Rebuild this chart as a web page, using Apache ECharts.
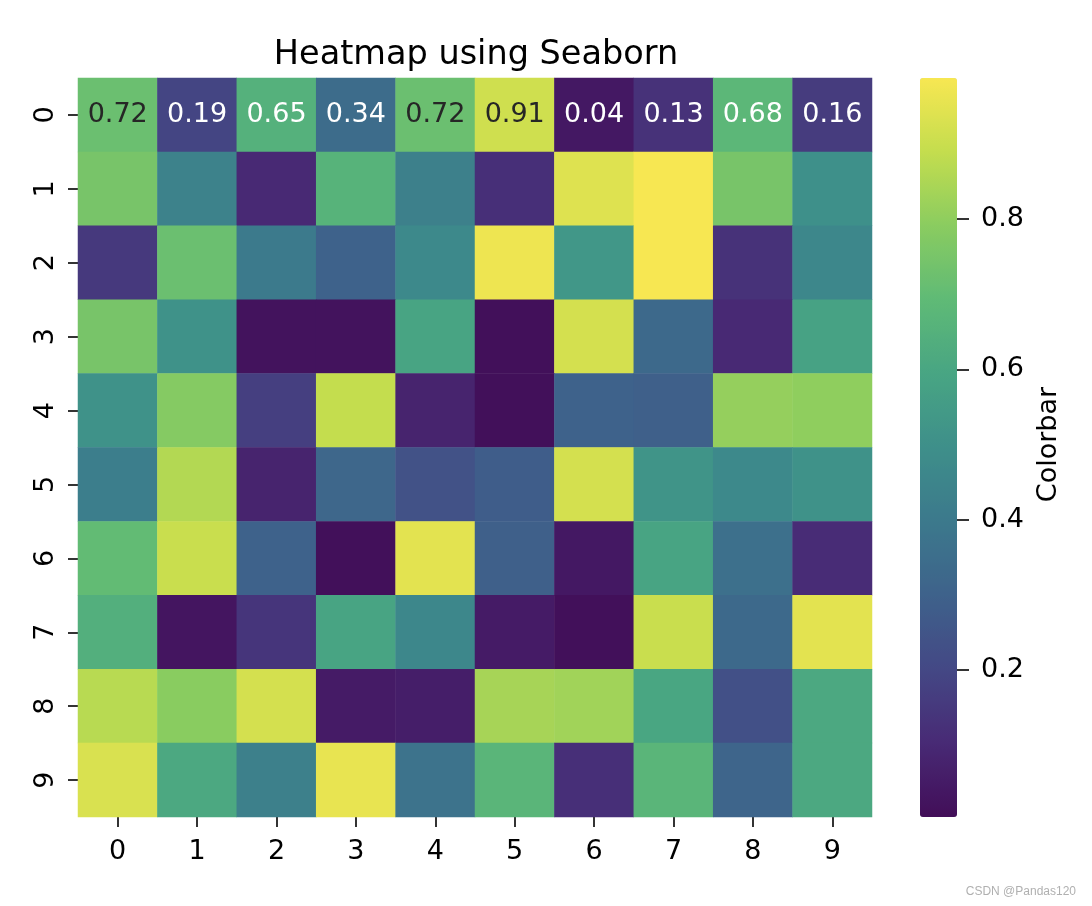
<!DOCTYPE html>
<html>
<head>
<meta charset="utf-8">
<script src="https://cdn.jsdelivr.net/npm/echarts@6/dist/echarts.min.js"></script>
<style>html,body{margin:0;padding:0;background:#fff}#chart{width:1092px;height:906px}</style>
</head>
<body>
<div id="chart"></div>
<script>
// ---- data ----
const xLabels = ['0','1','2','3','4','5','6','7','8','9'];
const yLabels = ['0','1','2','3','4','5','6','7','8','9'];
const row0 = [0.72,0.19,0.65,0.34,0.72,0.91,0.04,0.13,0.68,0.16];
const row1 = [0.75,0.44,0.10,0.66,0.43,0.12,0.94,0.99,0.75,0.50];
const row2 = [0.15,0.72,0.40,0.30,0.47,0.97,0.53,0.99,0.13,0.46];
const row3 = [0.75,0.51,0.02,0.02,0.59,0.01,0.92,0.33,0.10,0.58];
const row4 = [0.51,0.78,0.17,0.89,0.08,0.01,0.30,0.29,0.81,0.80];
const row5 = [0.42,0.86,0.08,0.32,0.24,0.28,0.92,0.52,0.47,0.51];
const row6 = [0.70,0.90,0.30,0.01,0.95,0.29,0.04,0.59,0.36,0.11];
const row7 = [0.64,0.03,0.14,0.59,0.46,0.05,0.01,0.90,0.33,0.95];
const row8 = [0.87,0.79,0.92,0.05,0.06,0.84,0.83,0.60,0.23,0.61];
const row9 = [0.93,0.61,0.43,0.96,0.37,0.67,0.12,0.67,0.31,0.61];
const values = [row0,row1,row2,row3,row4,row5,row6,row7,row8,row9];
const annotatedRows = [0];
const colorMin = 0.004, colorMax = 0.988;
// colorbar scale from 0 to 1 in steps of 0.2; only the inner ticks are shown
const colorbarScale = ['0.0','0.2','0.4','0.6','0.8','1.0'];
const colorbarShown = ['0.2','0.4','0.6','0.8'];
const titleText = 'Heatmap using Seaborn';
const colorbarLabel = 'Colorbar';

// ---- style ----
// viridis as it appears in the reference (slightly softened)
const palette = ['#420e58','#482a75','#444885','#3e628b','#3c798c','#3e8f8a','#48a583','#5fba76','#8acc60','#c4dd4e','#f7e752'];
// true viridis, used for the annotation text colour rule
const viridis = ['#440154','#482475','#414487','#355f8d','#2a788e','#21918c','#22a884','#44bf70','#7ad151','#bddf26','#fde725'];
const FONT = 'DejaVu Sans';
function hexToRgb(h){return [parseInt(h.substr(1,2),16),parseInt(h.substr(3,2),16),parseInt(h.substr(5,2),16)];}
function cmap(v){
  let t=(v-colorMin)/(colorMax-colorMin); t=Math.max(0,Math.min(1,t));
  const p=t*(viridis.length-1); const i=Math.min(Math.floor(p),viridis.length-2); const f=p-i;
  const a=hexToRgb(viridis[i]), b=hexToRgb(viridis[i+1]);
  return a.map((x,k)=>x+(b[k]-x)*f);
}
function lum(rgb){
  const c=rgb.map(x=>{x/=255;return x<=0.03928?x/12.92:Math.pow((x+0.055)/1.055,2.4);});
  return 0.2126*c[0]+0.7152*c[1]+0.0722*c[2];
}
const data=[];
values.forEach((row,r)=>row.forEach((v,c)=>{
  const item={value:[c,r,v]};
  if(annotatedRows.includes(r)){
    item.label={show:true,formatter:v.toFixed(2),color:lum(cmap(v))>0.408?'#262626':'#ffffff',
      fontFamily:FONT,fontSize:27};
  }
  data.push(item);
}));

// colorbar geometry
const cbTop=78, cbH=739;
const pxPerUnit=cbH/(colorMax-colorMin);
const scaleTop=cbTop-(1-colorMax)*pxPerUnit;
const scaleH=pxPerUnit;
const showIdx=(i)=>colorbarShown.includes(colorbarScale[i]);

const chart=echarts.init(document.getElementById('chart'),null,{renderer:'canvas'});
chart.setOption({
  animation:false,
  backgroundColor:'#ffffff',
  textStyle:{fontFamily:FONT},
  title:{text:titleText,left:471,top:33,textAlign:'center',
    textStyle:{fontFamily:FONT,fontSize:33.5,fontWeight:'normal',color:'#000'}},
  grid:[
    {left:78,top:78,width:794,height:739},
    {left:920,top:scaleTop,width:37,height:scaleH}
  ],
  xAxis:[
    {type:'category',gridIndex:0,data:xLabels,position:'bottom',
     axisLine:{show:false},splitLine:{show:false},
     axisTick:{show:true,alignWithLabel:true,length:10,lineStyle:{color:'#000',width:1.6}},
     axisLabel:{fontFamily:FONT,fontSize:27,color:'#000',margin:21}},
    {type:'value',gridIndex:1,show:false,min:0,max:1}
  ],
  yAxis:[
    {type:'category',gridIndex:0,data:yLabels,inverse:true,position:'left',
     axisLine:{show:false},splitLine:{show:false},
     axisTick:{show:true,alignWithLabel:true,length:10,lineStyle:{color:'#000',width:1.6}},
     axisLabel:{fontFamily:FONT,fontSize:27,color:'#000',rotate:90,margin:19}},
    {type:'category',gridIndex:1,position:'right',data:colorbarScale,boundaryGap:false,z:10,
     axisLine:{show:false,onZero:false},splitLine:{show:false},
     axisTick:{show:true,inside:false,length:12,interval:(i)=>showIdx(i),lineStyle:{color:'#000',width:1.6}},
     axisLabel:{show:true,interval:(i)=>showIdx(i),fontFamily:FONT,fontSize:27,color:'#000',margin:24},
     name:colorbarLabel,nameLocation:'middle',nameRotate:90,nameGap:78,
     nameTextStyle:{fontFamily:FONT,fontSize:27,color:'#000'}}
  ],
  visualMap:{type:'continuous',min:colorMin,max:colorMax,seriesIndex:0,z:1,
    left:920,top:cbTop,itemWidth:37,itemHeight:cbH,padding:0,text:null,
    calculable:false,showLabel:false,hoverLink:false,
    inRange:{color:palette}},
  graphic:[{type:'text',right:16,bottom:8,
    style:{text:'CSDN @Pandas120',fontFamily:'Liberation Sans',fontSize:12,fill:'#b0b0b0'}}],
  series:[{type:'heatmap',xAxisIndex:0,yAxisIndex:0,data:data,
    label:{show:false},emphasis:{disabled:true},itemStyle:{borderWidth:0}}]
});
</script>
</body>
</html>
